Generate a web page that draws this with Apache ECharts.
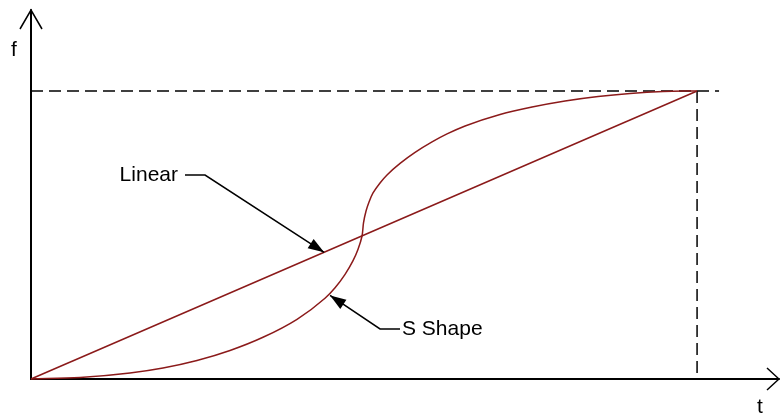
<!DOCTYPE html>
<html>
<head>
<meta charset="utf-8">
<script src="https://cdn.jsdelivr.net/npm/echarts@6/dist/echarts.min.js"></script>
<style>
  html, body { margin: 0; padding: 0; background: #fff; }
  #main { width: 780px; height: 415px; }
</style>
</head>
<body>
<div id="main"></div>
<script>
// t runs 0..1 up to the dashed corner, f runs 0..1 up to the dashed level
var linearData = [[0, 0], [1, 1]];
var sShapeData = [
  [0, 0], [0.0736, 0.0052], [0.1486, 0.0208], [0.1982, 0.0382],
  [0.2492, 0.0642], [0.2988, 0.0990], [0.3483, 0.1448], [0.3994, 0.2073],
  [0.4414, 0.2802], [0.4565, 0.3167], [0.4715, 0.3635], [0.4835, 0.4108],
  [0.4910, 0.4507], [0.4970, 0.4965], [0.4992, 0.5417], [0.5030, 0.5833],
  [0.5075, 0.6146], [0.5135, 0.6458], [0.5240, 0.6806], [0.5345, 0.7083],
  [0.5541, 0.7483], [0.5766, 0.7865], [0.6021, 0.8229], [0.6246, 0.8507],
  [0.6517, 0.8785], [0.7042, 0.9184], [0.7523, 0.9444], [0.8018, 0.9653],
  [0.8514, 0.9809], [0.8994, 0.9913], [0.9489, 0.9979], [1, 1]
];
var levelLine = [[0, 1], [1.033, 1]];
var endLine = [[1, 1], [1, 0]];
var xMax = 1.123;
var yMax = 1.281;

var red = '#8b1a1a';
var font = '"Liberation Sans", Arial, sans-serif';

var chart = echarts.init(document.getElementById('main'));

// centripetal catmull-rom through the points, as cubic beziers
function splinePath(pts) {
  var n = pts.length;
  var d = 'M' + pts[0][0] + ',' + pts[0][1];
  function get(i) {
    if (i < 0) return [2 * pts[0][0] - pts[1][0], 2 * pts[0][1] - pts[1][1]];
    if (i >= n) return [2 * pts[n - 1][0] - pts[n - 2][0], 2 * pts[n - 1][1] - pts[n - 2][1]];
    return pts[i];
  }
  function dist(a, b) { return Math.sqrt(Math.sqrt((a[0] - b[0]) * (a[0] - b[0]) + (a[1] - b[1]) * (a[1] - b[1]))) || 1e-6; }
  for (var i = 0; i < n - 1; i++) {
    var p0 = get(i - 1), p1 = get(i), p2 = get(i + 1), p3 = get(i + 2);
    var d1 = dist(p0, p1), d2 = dist(p1, p2), d3 = dist(p2, p3);
    var b1 = [0, 0], b2 = [0, 0];
    for (var k = 0; k < 2; k++) {
      b1[k] = (d1 * d1 * p2[k] - d2 * d2 * p0[k] + (2 * d1 * d1 + 3 * d1 * d2 + d2 * d2) * p1[k]) / (3 * d1 * (d1 + d2));
      b2[k] = (d3 * d3 * p1[k] - d2 * d2 * p3[k] + (2 * d3 * d3 + 3 * d3 * d2 + d2 * d2) * p2[k]) / (3 * d3 * (d3 + d2));
    }
    d += 'C' + b1[0] + ',' + b1[1] + ' ' + b2[0] + ',' + b2[1] + ' ' + p2[0] + ',' + p2[1];
  }
  return d;
}

var option = {
  animation: false,
  grid: { left: 31, right: 1, top: 10, bottom: 36 },
  xAxis: {
    type: 'value', min: 0, max: xMax,
    axisLine: { show: true, lineStyle: { color: '#000', width: 2 } },
    axisTick: { show: false }, axisLabel: { show: false }, splitLine: { show: false }
  },
  yAxis: {
    type: 'value', min: 0, max: yMax,
    axisLine: { show: true, lineStyle: { color: '#000', width: 2 } },
    axisTick: { show: false }, axisLabel: { show: false }, splitLine: { show: false }
  },
  series: [
    {
      type: 'line', data: levelLine, symbol: 'none', z: 1,
      lineStyle: { color: '#000', width: 1.5, type: [12, 6] }
    },
    {
      type: 'line', data: endLine, symbol: 'none', z: 1,
      lineStyle: { color: '#000', width: 1.5, type: [12, 6] }
    },
    {
      name: 'Linear', type: 'line', data: linearData, symbol: 'none', z: 3,
      lineStyle: { color: red, width: 1.5 }
    },
    {
      name: 'S Shape', type: 'custom', z: 3,
      data: [sShapeData[0]],
      renderItem: function (params, api) {
        var pts = sShapeData.map(function (p) { return api.coord(p); });
        return {
          type: 'path',
          shape: { pathData: splinePath(pts) },
          style: { stroke: red, lineWidth: 1.5, fill: null }
        };
      }
    }
  ]
};
chart.setOption(option);

function px(p) { return chart.convertToPixel({ gridIndex: 0 }, p); }

function arrowHead(tip, from, len, wid) {
  var dx = tip[0] - from[0], dy = tip[1] - from[1];
  var d = Math.sqrt(dx * dx + dy * dy);
  var ux = dx / d, uy = dy / d;
  var bx = tip[0] - ux * len, by = tip[1] - uy * len;
  return {
    type: 'polygon', z: 20,
    shape: { points: [tip, [bx - uy * wid / 2, by + ux * wid / 2], [bx + uy * wid / 2, by - ux * wid / 2]] },
    style: { fill: '#000' }
  };
}

function leader(points) {
  return {
    type: 'polyline', z: 20,
    shape: { points: points },
    style: { stroke: '#000', lineWidth: 1.5, fill: null }
  };
}

var yTop = px([0, yMax]);
var xEnd = px([xMax, 0]);
var origin = px([0, 0]);

// annotation anchors (data coords)
var linTip = px([0.44, 0.44]);
var linElbow = px([0.2613, 0.708]);
var linStart = px([0.2312, 0.708]);
var sTip = px([0.449, 0.290]);
var sElbow = px([0.524, 0.1736]);
var sStart = px([0.554, 0.1736]);

chart.setOption({
  graphic: [
    leader([[yTop[0] - 11, yTop[1] + 19], yTop, [yTop[0] + 11, yTop[1] + 19]]),
    leader([[xEnd[0] - 12, xEnd[1] - 11], xEnd, [xEnd[0] - 12, xEnd[1] + 11]]),
    leader([linStart, linElbow, linTip]),
    arrowHead(linTip, linElbow, 16, 11),
    leader([sStart, sElbow, sTip]),
    arrowHead(sTip, sElbow, 16, 11),
    {
      type: 'text', z: 20, x: origin[0] - 17, y: 50,
      style: { text: 'f', font: '21px ' + font, fill: '#000', align: 'center', verticalAlign: 'middle' }
    },
    {
      type: 'text', z: 20, x: 760, y: 407,
      style: { text: 't', font: '21px ' + font, fill: '#000', align: 'center', verticalAlign: 'middle' }
    },
    {
      type: 'text', z: 20, x: linStart[0] - 7, y: linStart[1],
      style: { text: 'Linear', font: '21px ' + font, fill: '#000', align: 'right', verticalAlign: 'middle' }
    },
    {
      type: 'text', z: 20, x: sStart[0] + 2, y: sStart[1],
      style: { text: 'S Shape', font: '21px ' + font, fill: '#000', align: 'left', verticalAlign: 'middle' }
    }
  ]
});
</script>
</body>
</html>
